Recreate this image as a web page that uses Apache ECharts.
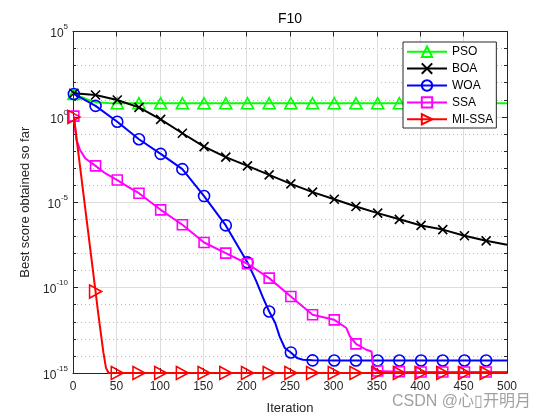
<!DOCTYPE html>
<html><head><meta charset="utf-8">
<script src="https://cdn.jsdelivr.net/npm/echarts@6/dist/echarts.min.js"></script>
<style>html,body{margin:0;padding:0;background:#fff}#c{width:560px;height:420px}</style>
</head><body><div id="c"></div>
<script>
// ---- data (iteration, best score) ----
const seriesNames = ['PSO', 'BOA', 'WOA', 'SSA', 'MI-SSA'];
const xTickValues = [0, 50, 100, 150, 200, 250, 300, 350, 400, 450, 500];
const yTickExponents = [-15, -10, -5, 0, 5];

const psoData = [[1,22],[10,14],[20,9],[27,7.2],[40,6.5],[51,6.3],[76,6.3],[101,6.3],[126,6.3],[151,6.3],[176,6.3],[201,6.3],[226,6.3],[251,6.3],[276,6.3],[301,6.3],[326,6.3],[351,6.3],[376,6.3],[401,6.3],[426,6.3],[451,6.3],[476,6.3],[500,6.3]];
const boaData = [[1,24],[26,19],[51,9.8],[76,3.6],[101,0.72],[126,0.11],[151,1.8e-2],[176,4.4e-3],[201,1.35e-3],[226,4.0e-4],[251,1.2e-4],[276,3.9e-5],[301,1.5e-5],[326,5.6e-6],[351,2.3e-6],[376,1.0e-6],[401,4.4e-7],[426,2.5e-7],[451,1.1e-7],[476,5.5e-8],[500,3.2e-8]];
const woaData = [[1,22],[26,4.4],[51,0.52],[76,4.9e-2],[101,6.8e-3],[126,8.7e-4],[151,2.3e-5],[176,4.4e-7],[201,3.0e-9],[211,2.5e-10],[219,2.5e-11],[226,4.0e-12],[233,8.5e-13],[238,1.4e-13],[244,2.9e-14],[251,1.6e-14],[258,7.6e-15],[265,6.0e-15],[276,5.5e-15],[301,5.4e-15],[326,5.4e-15],[351,5.4e-15],[376,5.4e-15],[401,5.4e-15],[426,5.4e-15],[451,5.4e-15],[476,5.4e-15],[500,5.4e-15]];
const ssaData = [[1,1.1],[4,4.5e-2],[8,1.2e-2],[14,3.8e-3],[26,1.35e-3],[37,5.0e-4],[51,2.0e-4],[63,8.3e-5],[76,3.4e-5],[101,3.6e-6],[126,4.8e-7],[151,4.4e-8],[176,1.05e-8],[201,2.5e-9],[226,3.6e-10],[251,3.0e-11],[276,2.6e-12],[301,1.3e-12],[315,4.3e-13],[319,1.4e-13],[326,5.1e-14],[338,2.3e-14],[344,1.8e-14],[346,1.8e-15],[351,1.3e-15],[376,1.2e-15],[401,1.15e-15],[426,1.15e-15],[451,1.15e-15],[476,1.15e-15],[500,1.15e-15]];
const missaData = [[1,1.0],[26,5.9e-11],[29,3.2e-12],[35,1.6e-14],[38,2.0e-15],[41,1e-15],[51,1e-15],[76,1e-15],[101,1e-15],[126,1e-15],[151,1e-15],[176,1e-15],[201,1e-15],[226,1e-15],[251,1e-15],[276,1e-15],[301,1e-15],[326,1e-15],[351,1e-15],[376,1e-15],[401,1e-15],[426,1e-15],[451,1e-15],[476,1e-15],[500,1e-15]];

// ---- styling ----
const colors = ['#00ff00', '#000000', '#0000ff', '#ff00ff', '#ff0000'];
const symbols = [
  'path://M5,0L10,9L0,9Z',
  'path://M0,0L10,10M10,0L0,10',
  'path://M10,5A5,5,0,1,1,0,5A5,5,0,1,1,10,5Z',
  'path://M0,0L10,0L10,10L0,10Z',
  'path://M0,0L9,5L0,10Z'
];
const symbolSizes = [[12,11], 9, 11, 10, [12,13]];
const allData = [psoData, boaData, woaData, ssaData, missaData];
const isMarker = it => (it - 1) % 25 === 0 && it <= 476;

function build(d) {
  return d.map(([it, v]) => {
    const item = { value: [it, Math.log10(v)] };
    if (!isMarker(it)) item.symbol = 'none';
    return item;
  });
}

const FONT = '"Liberation Sans", Arial, Helvetica, sans-serif';
const AX = '#262626';

const series = seriesNames.map((name, i) => ({
  name, type: 'line', data: build(allData[i]), smooth: false,
  symbol: symbols[i], symbolSize: symbolSizes[i],
  showSymbol: true, showAllSymbol: true, clip: false,
  lineStyle: { color: colors[i], width: 2 },
  itemStyle: { color: 'none', borderColor: colors[i], borderWidth: 1.6 },
  emphasis: { disabled: true },
  animation: false, z: 2 + i
}));

const chart = echarts.init(document.getElementById('c'), null, { renderer: 'canvas' });
chart.setOption({
  backgroundColor: '#fff',
  animation: false,
  textStyle: { fontFamily: FONT },
  grid: { left: 73, right: 53, top: 31.5, bottom: 47, containLabel: false },
  graphic: [
    { type: 'text', x: 290, y: 19, z: 100,
      style: { text: 'F10', fontSize: 14, fontFamily: FONT, fill: '#000', align: 'center', verticalAlign: 'middle' } },
    { type: 'text', x: 392, y: 402, z: 100,
      style: { text: 'CSDN @心▯开明月', fontSize: 16, fontFamily: '"Liberation Sans", "Noto Sans CJK SC", sans-serif', fill: 'rgba(130,130,130,0.75)', align: 'left', verticalAlign: 'middle' } }
  ],
  legend: {
    data: seriesNames, orient: 'vertical', left: 403, top: 42,
    padding: [2, 3, 1, 3], itemGap: 1.5, itemWidth: 40, itemHeight: 13,
    backgroundColor: '#fff', borderColor: AX, borderWidth: 1, borderRadius: 0,
    textStyle: { fontSize: 12, color: '#000', fontFamily: FONT },
    selectedMode: false, z: 50
  },
  xAxis: [{
    type: 'value', min: 0, max: 500, interval: 50,
    axisLine: { show: true, onZero: false, lineStyle: { color: AX, width: 1 } },
    axisTick: { show: true, inside: true, length: 5, lineStyle: { color: AX } },
    splitLine: { show: true, lineStyle: { color: '#dedede', width: 1 } },
    axisLabel: { fontSize: 12, color: AX, margin: 8, fontFamily: FONT,
      formatter: v => xTickValues.includes(v) ? String(v) : '' },
    name: 'Iteration', nameLocation: 'middle', nameGap: 29,
    nameTextStyle: { fontSize: 13, color: AX, fontFamily: FONT }
  }, {
    type: 'value', position: 'top', min: 0, max: 500, interval: 50,
    axisLine: { show: true, onZero: false, lineStyle: { color: AX, width: 1 } },
    axisTick: { show: true, inside: true, length: 5, lineStyle: { color: AX } },
    axisLabel: { show: false }, splitLine: { show: false }
  }],
  yAxis: [{
    type: 'value', min: -15, max: 5, interval: 5,
    axisLine: { show: true, onZero: false, lineStyle: { color: AX, width: 1 } },
    axisTick: { show: true, inside: true, length: 5, lineStyle: { color: AX } },
    minorTick: { show: true, splitNumber: 5, length: 3, lineStyle: { color: AX } },
    splitLine: { show: true, lineStyle: { color: '#dedede', width: 1 } },
    minorSplitLine: { show: true, lineStyle: { color: '#b8b8b8', width: 1, type: [1, 3] } },
    axisLabel: {
      margin: 5, color: AX,
      formatter: v => yTickExponents.includes(v) ? '{b|10}{s|' + v + '}' : '',
      rich: {
        b: { fontSize: 12, color: AX, fontFamily: FONT, lineHeight: 17, verticalAlign: 'bottom' },
        s: { fontSize: 8, color: AX, fontFamily: FONT, lineHeight: 17, verticalAlign: 'top' }
      }
    },
    name: 'Best score obtained so far', nameLocation: 'middle', nameGap: 41,
    nameTextStyle: { fontSize: 13, color: AX, fontFamily: FONT }
  }, {
    type: 'value', position: 'right', min: -15, max: 5, interval: 5,
    axisLine: { show: true, onZero: false, lineStyle: { color: AX, width: 1 } },
    axisTick: { show: true, inside: true, length: 5, lineStyle: { color: AX } },
    minorTick: { show: true, splitNumber: 5, length: 3, lineStyle: { color: AX } },
    axisLabel: { show: false }, splitLine: { show: false }
  }],
  series
});
</script></body></html>
